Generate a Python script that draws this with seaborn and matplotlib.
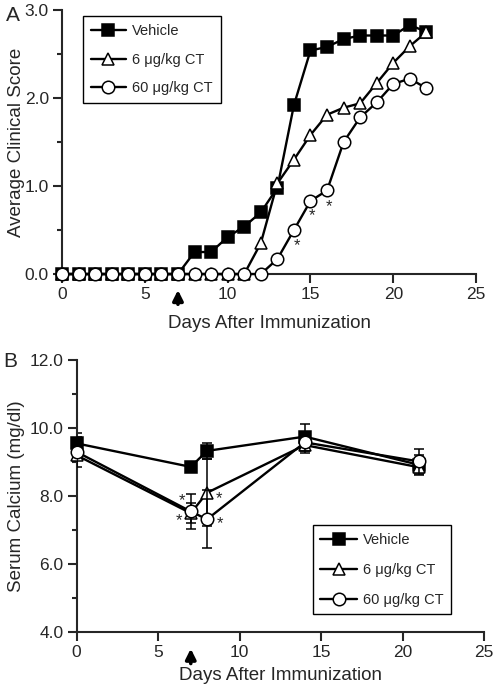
import matplotlib
matplotlib.use("Agg")
import matplotlib.pyplot as plt
from matplotlib.ticker import MultipleLocator, FormatStrFormatter
import pandas as pd
import seaborn as sns

# panel A: clinical score per day
days_a = list(range(0, 23))
vehicle_a = [0, 0, 0, 0, 0, 0, 0, 0, 0.25, 0.25, 0.42, 0.54, 0.70, 0.98, 1.92,
             2.54, 2.58, 2.67, 2.71, 2.71, 2.71, 2.83, 2.75]
ct6_a = [0, 0, 0, 0, 0, 0, 0, 0, 0, 0, 0, 0, 0.35, 1.03, 1.30,
         1.58, 1.81, 1.89, 1.94, 2.17, 2.40, 2.59, 2.75]
ct60_a = [0, 0, 0, 0, 0, 0, 0, 0, 0, 0, 0, 0, 0, 0.17, 0.50,
          0.83, 0.95, 1.50, 1.78, 1.95, 2.16, 2.22, 2.11]
star_a_x = [14.17, 15.12, 16.14]
star_a_y = [0.32, 0.66, 0.77]

# panel B: serum calcium
days_b = [0, 7, 8, 14, 21]
vehicle_b = [9.55, 8.86, 9.33, 9.75, 8.92]
vehicle_err = [0.30, 0.05, 0.23, 0.38, 0.30]
ct6_b = [9.20, 7.50, 8.10, 9.50, 8.85]
ct6_err = [0.12, 0.30, 0.98, 0.22, 0.10]
ct60_b = [9.30, 7.55, 7.32, 9.58, 9.02]
ct60_err = [0.44, 0.52, 0.85, 0.25, 0.36]
star_b_x = [6.45, 6.30, 8.74, 8.80]
star_b_y = [7.88, 7.29, 7.94, 7.18]

labels = ["Vehicle", "6 \u03bcg/kg CT", "60 \u03bcg/kg CT"]
markers = ["s", "^", "o"]
faces = ["black", "white", "white"]
msizes = [8, 9, 9]
injection_day = 7

sns.set_style("ticks")
plt.rcParams["font.family"] = ["Liberation Sans", "DejaVu Sans"]
plt.rcParams["axes.linewidth"] = 1.5

fig = plt.figure(figsize=(4.96, 6.88), dpi=100)
ax_a = fig.add_axes([0.125, 0.6017, 0.835, 0.3838])
ax_b = fig.add_axes([0.1546, 0.081, 0.8214, 0.3957])

df_a = pd.DataFrame({"day": days_a, labels[0]: vehicle_a, labels[1]: ct6_a, labels[2]: ct60_a})
df_b = pd.DataFrame({"day": days_b, labels[0]: vehicle_b, labels[1]: ct6_b, labels[2]: ct60_b})
errs_b = [vehicle_err, ct6_err, ct60_err]

for i, lab in enumerate(labels):
    sns.lineplot(data=df_a, x="day", y=lab, ax=ax_a, color="black", lw=1.7,
                 marker=markers[i], markersize=msizes[i], markerfacecolor=faces[i],
                 markeredgecolor="black", markeredgewidth=1.1, label=lab,
                 clip_on=False, zorder=3 + i)
    ax_b.errorbar(days_b, df_b[lab], yerr=errs_b[i], fmt="none", ecolor="black",
                  elinewidth=1.1, capsize=3.4, capthick=1.1, zorder=2 + i)
    sns.lineplot(data=df_b, x="day", y=lab, ax=ax_b, color="black", lw=1.7,
                 marker=markers[i], markersize=msizes[i], markerfacecolor=faces[i],
                 markeredgecolor="black", markeredgewidth=1.1, label=lab,
                 clip_on=False, zorder=3 + i)

for x, y in zip(star_a_x, star_a_y):
    ax_a.text(x, y, "*", ha="center", va="center", fontsize=12)
for x, y in zip(star_b_x, star_b_y):
    ax_b.text(x, y, "*", ha="center", va="center", fontsize=12)

ax_a.set_xlim(0, 25)
ax_a.set_ylim(0, 3)
ax_a.yaxis.set_major_locator(MultipleLocator(1))
ax_a.yaxis.set_minor_locator(MultipleLocator(0.5))
ax_b.set_xlim(0, 25)
ax_b.set_ylim(4, 12)
ax_b.yaxis.set_major_locator(MultipleLocator(2))
ax_b.yaxis.set_minor_locator(MultipleLocator(1))

for ax in (ax_a, ax_b):
    ax.xaxis.set_major_locator(MultipleLocator(5))
    ax.yaxis.set_major_formatter(FormatStrFormatter("%.1f"))
    sns.despine(ax=ax)
    ax.tick_params(axis="both", which="major", length=6.5, width=1.5, labelsize=12.5, pad=3)
    ax.tick_params(axis="y", which="minor", length=3.5, width=1.5)
    ax.annotate("", xy=(injection_day, -0.05), xytext=(injection_day, -0.125),
                xycoords=ax.get_xaxis_transform(),
                arrowprops=dict(arrowstyle="-|>,head_width=0.3,head_length=0.6",
                                lw=2.6, color="black"))

ax_a.set_xlabel("Days After Immunization", fontsize=13.5, labelpad=9)
ax_b.set_xlabel("Days After Immunization", fontsize=13.5, labelpad=5)
ax_a.set_ylabel("Average Clinical Score", fontsize=13.5, labelpad=0)
ax_b.set_ylabel("Serum Calcium (mg/dl)", fontsize=13.5, labelpad=3)

leg_a = ax_a.legend(loc="upper left", bbox_to_anchor=(0.05, 0.977), fontsize=10.5,
                    handlelength=2.4, handletextpad=0.45, labelspacing=1.0,
                    borderpad=0.55, borderaxespad=0,
                    fancybox=False, framealpha=1, edgecolor="black")
leg_b = ax_b.legend(loc="lower left", bbox_to_anchor=(0.58, 0.067), fontsize=10.5,
                    handlelength=2.5, handletextpad=0.45, labelspacing=1.1,
                    borderpad=0.5, borderaxespad=0,
                    fancybox=False, framealpha=1, edgecolor="black")
for leg in (leg_a, leg_b):
    leg.get_frame().set_linewidth(1.0)

fig.text(0.012, 0.978, "A", fontsize=15, va="center")
fig.text(0.006, 0.474, "B", fontsize=15, va="center")

fig.savefig("out.png", dpi=100)
